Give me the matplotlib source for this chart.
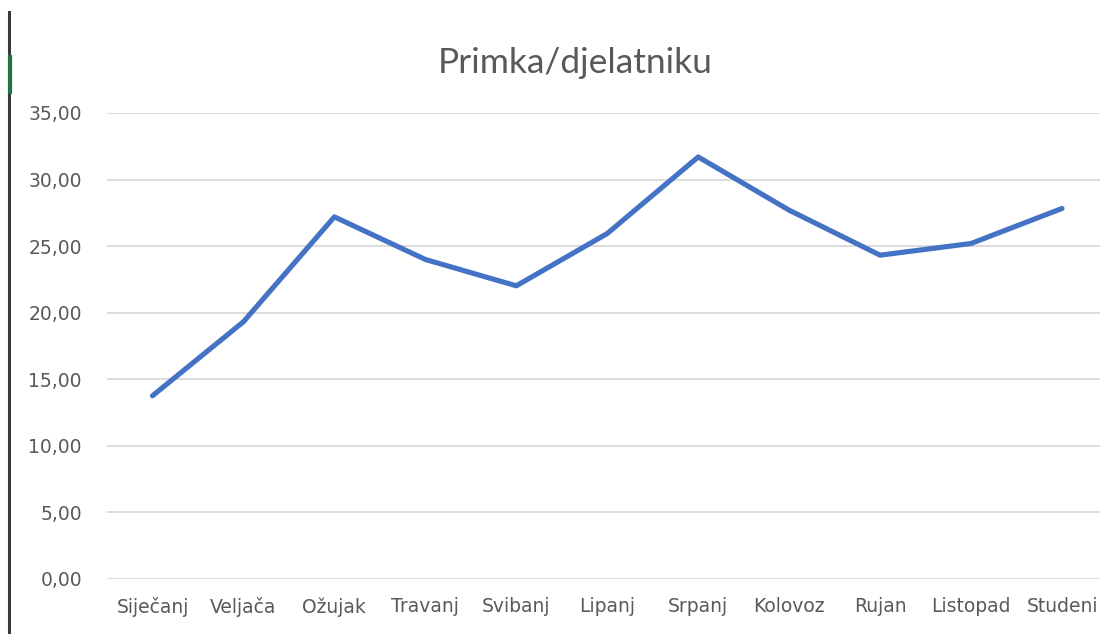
import matplotlib
matplotlib.use("Agg")
import matplotlib.pyplot as plt
from matplotlib.lines import Line2D

# Podaci
mjeseci = ["Siječanj", "Veljača", "Ožujak", "Travanj", "Svibanj", "Lipanj",
           "Srpanj", "Kolovoz", "Rujan", "Listopad", "Studeni"]
primka = [13.76, 19.32, 27.2, 24.0, 22.02, 25.95, 31.7, 27.7, 24.32, 25.2, 27.83]
y_ticks = [0, 5, 10, 15, 20, 25, 30, 35]

plt.rcParams["font.family"] = ["DejaVu Sans"]

fig = plt.figure(figsize=(11, 6.34), dpi=100)
fig.patch.set_facecolor("white")

# os smještena kao u Excelu (desni rub malo izvan slike)
ax = fig.add_axes([107 / 1100, 55 / 634, (1107.5 - 107) / 1100, (579 - 113) / 634])

x = list(range(len(mjeseci)))
ax.plot(x, primka, color="#4472C4", linewidth=3.7,
        solid_joinstyle="round", solid_capstyle="round", zorder=3)

ax.set_xlim(-0.5, len(mjeseci) - 0.5)
ax.set_ylim(0, 35)
ax.set_yticks(y_ticks)
ax.set_yticklabels([f"{v:.2f}".replace(".", ",") for v in y_ticks])
ax.set_xticks(x)
ax.set_xticklabels(mjeseci)

ax.grid(axis="y", color="#D9D9D9", linewidth=1.3, zorder=0)
for s in ax.spines.values():
    s.set_visible(False)
ax.tick_params(axis="both", length=0, labelsize=13.5, labelcolor="#595959")
ax.tick_params(axis="y", pad=18)
ax.tick_params(axis="x", pad=13)

fig.text(575 / 1100, 1 - 73 / 634, "Primka/djelatniku", ha="center", va="baseline",
         fontsize=25.5, color="#595959", family="Lato")

# rub prozora lijevo
fig.add_artist(Line2D([9 / 1100, 9 / 1100], [0, 1 - 12 / 634],
                      transform=fig.transFigure, color="#3a3a3a", linewidth=2.2))
fig.add_artist(Line2D([9.5 / 1100, 9.5 / 1100], [1 - 92 / 634, 1 - 57 / 634],
                      transform=fig.transFigure, color="#217346", linewidth=3))

fig.savefig("out.png", dpi=100)
